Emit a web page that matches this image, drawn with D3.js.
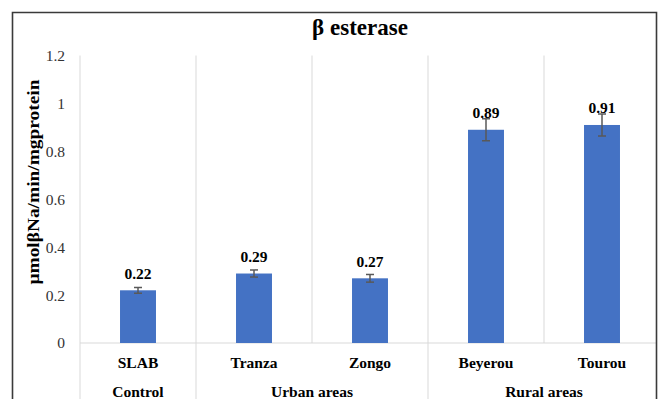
<!DOCTYPE html>
<html>
<head>
<meta charset="utf-8">
<script src="https://cdn.jsdelivr.net/npm/d3@7/dist/d3.min.js"></script>
<style>
  html, body { margin: 0; padding: 0; background: #fff; }
  svg { display: block; }
</style>
</head>
<body>
<svg id="chart" width="660" height="399"></svg>
<script>
// Sites sampled, their enzyme activity and standard errors
const sites = ["SLAB", "Tranza", "Zongo", "Beyerou", "Tourou"];
const activity = [0.22, 0.29, 0.27, 0.89, 0.91];
const stdErr = [0.012, 0.015, 0.016, 0.046, 0.046];

// Higher-level grouping of the sites
const groupNames = ["Control", "Urban areas", "Rural areas"];
const groupSizes = [1, 2, 2];

const yTicks = [0, 0.2, 0.4, 0.6, 0.8, 1, 1.2];
const chartTitle = "β esterase";
const yTitle = "μmolβNa/min/mgprotein";

const FONT = "'Liberation Serif', 'Times New Roman', Times, serif";

const svg = d3.select("#chart").attr("font-family", FONT);
const W = 660, H = 399;
const frame = { left: 12.5, top: 12.5, right: 656.5 };
const plot = { left: 80, right: 660, top: 55.5, bottom: 343 };

const grid = "#d9d9d9";
const barColor = "#4472c4";
const errColor = "#595959";

svg.append("defs").append("clipPath").attr("id", "inside")
  .append("rect").attr("x", frame.left).attr("y", frame.top)
  .attr("width", frame.right - frame.left).attr("height", H);

const g = svg.append("g").attr("clip-path", "url(#inside)");

const x = d3.scaleBand().domain(sites).range([plot.left, plot.right]).padding(0);
const y = d3.scaleLinear().domain([0, 1.2]).range([plot.bottom, plot.top]);

// Vertical separators between sites (plot area only)
g.append("g").selectAll("line").data(sites.concat(["_end"]))
  .join("line")
  .attr("x1", (d, i) => plot.left + i * x.step())
  .attr("x2", (d, i) => plot.left + i * x.step())
  .attr("y1", plot.top).attr("y2", plot.bottom)
  .attr("stroke", grid).attr("stroke-width", 1);

// Group boundaries extend through the label area
const bounds = [0];
groupSizes.forEach(s => bounds.push(bounds[bounds.length - 1] + s));
g.append("g").selectAll("line").data(bounds)
  .join("line")
  .attr("x1", d => plot.left + d * x.step())
  .attr("x2", d => plot.left + d * x.step())
  .attr("y1", plot.bottom).attr("y2", H)
  .attr("stroke", grid).attr("stroke-width", 1);

// Category axis line
g.append("line")
  .attr("x1", plot.left).attr("x2", plot.right)
  .attr("y1", y(0)).attr("y2", y(0))
  .attr("stroke", grid).attr("stroke-width", 1);

// Value axis labels
const yAxis = svg.append("g")
  .attr("transform", `translate(${plot.left - 15},0)`)
  .call(d3.axisLeft(y).tickValues(yTicks).tickSize(0).tickPadding(0)
    .tickFormat(d => d3.format("~g")(d)));
yAxis.attr("font-family", FONT).attr("font-size", 15.5);
yAxis.select(".domain").remove();
yAxis.selectAll("text").attr("fill", "#333");

// Bars
const barW = x.bandwidth() * 0.31;
g.append("g").selectAll("rect").data(sites)
  .join("rect")
  .attr("x", d => x(d) + (x.bandwidth() - barW) / 2)
  .attr("y", (d, i) => y(activity[i]))
  .attr("width", barW)
  .attr("height", (d, i) => y(0) - y(activity[i]))
  .attr("fill", barColor);

// Error bars
const eb = g.append("g").attr("stroke", errColor).attr("stroke-width", 1.5);
sites.forEach((d, i) => {
  const cx = x(d) + x.bandwidth() / 2;
  const lo = y(activity[i] - stdErr[i]), hi = y(activity[i] + stdErr[i]);
  eb.append("line").attr("x1", cx).attr("x2", cx).attr("y1", lo).attr("y2", hi);
  eb.append("line").attr("x1", cx - 4).attr("x2", cx + 4).attr("y1", lo).attr("y2", lo);
  eb.append("line").attr("x1", cx - 4).attr("x2", cx + 4).attr("y1", hi).attr("y2", hi);
});

// Value labels
g.append("g").selectAll("text").data(sites)
  .join("text")
  .attr("x", d => x(d) + x.bandwidth() / 2)
  .attr("y", (d, i) => y(activity[i]) - 11.5)
  .attr("text-anchor", "middle")
  .attr("font-size", 15.5).attr("font-weight", "bold").attr("fill", "#000")
  .text((d, i) => d3.format(".2f")(activity[i]));

// Site names
g.append("g").selectAll("text").data(sites)
  .join("text")
  .attr("x", d => x(d) + x.bandwidth() / 2)
  .attr("y", 368.3)
  .attr("text-anchor", "middle")
  .attr("font-size", 15.5).attr("font-weight", "bold").attr("fill", "#000")
  .text(d => d);

// Group names
g.append("g").selectAll("text").data(groupNames)
  .join("text")
  .attr("x", (d, i) => plot.left + (bounds[i] + bounds[i + 1]) / 2 * x.step())
  .attr("y", 396.7)
  .attr("text-anchor", "middle")
  .attr("font-size", 15.5).attr("font-weight", "bold").attr("fill", "#000")
  .text(d => d);

// Title
svg.append("text")
  .attr("x", 360).attr("y", 35)
  .attr("text-anchor", "middle")
  .attr("font-size", 23).attr("font-weight", "bold").attr("fill", "#000")
  .text(chartTitle);

// Value axis title
svg.append("text")
  .attr("transform", "translate(39,182) rotate(-90)")
  .attr("text-anchor", "middle")
  .attr("font-size", 16).attr("font-weight", "bold").attr("fill", "#000")
  .attr("textLength", 205).attr("lengthAdjust", "spacingAndGlyphs")
  .text(yTitle);

// Chart frame (bottom edge lies below the visible area)
svg.append("path")
  .attr("d", `M${frame.left},${H + 5}V${frame.top}H${frame.right}V${H + 5}`)
  .attr("fill", "none").attr("stroke", "#3a3a3a").attr("stroke-width", 1.6);
</script>
</body>
</html>
